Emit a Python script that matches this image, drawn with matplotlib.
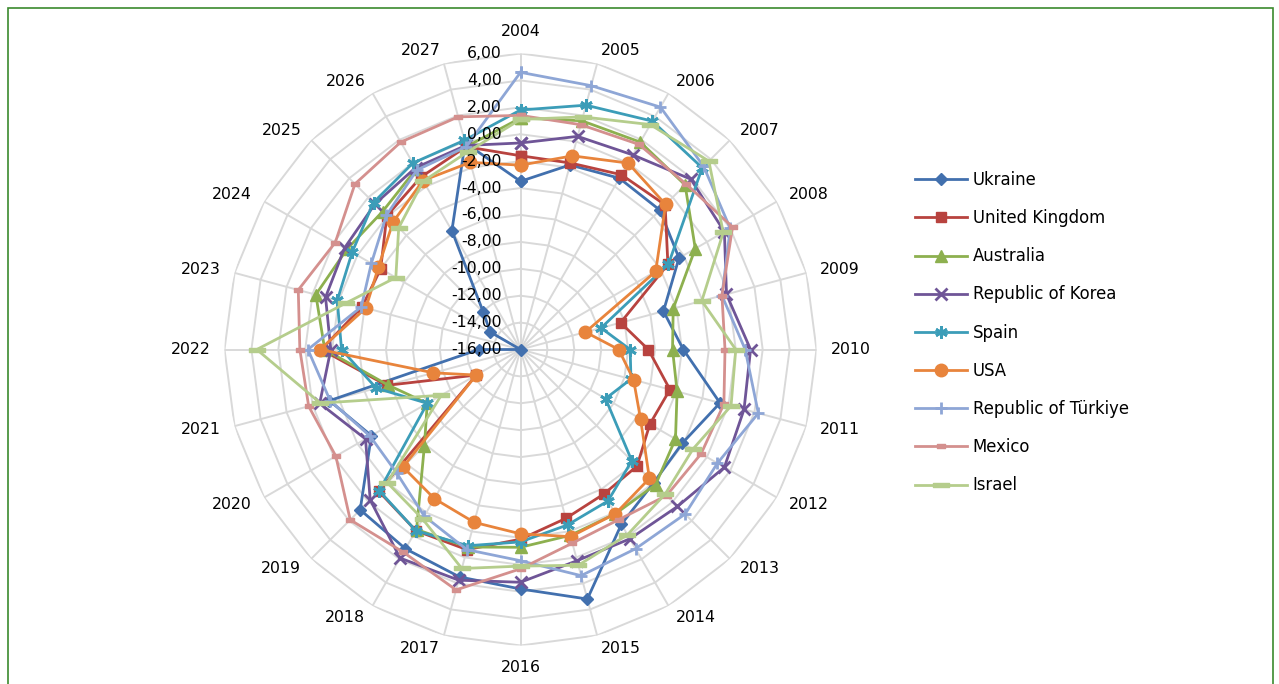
import numpy as np
import matplotlib
matplotlib.use('Agg')
import matplotlib.pyplot as plt
from matplotlib.path import Path
from matplotlib.patches import Rectangle

# Categories and series values (2004-2027)
years = [str(y) for y in range(2004, 2028)]

ukraine = [-3.5, -1.8, -1.3, -1.35, -2.4, -5.0, -3.9, -0.65, -2.1, -2.0, -1.0, 3.2,
           1.8, 1.5, 1.1, 0.85, -3.2, -1.3, -12.9, -16.0, -13.4, -12.1, -5.8, -0.1]
uk = [-1.6, -1.65, -1.0, -0.8, -3.35, -8.3, -6.5, -4.5, -4.9, -3.75, -3.6, -3.0,
      -1.9, -0.6, -0.45, -1.1, -12.2, -5.7, -1.2, -3.8, -4.0, -1.95, -1.2, -0.4]
australia = [1.2, 1.6, 1.8, 1.3, -1.0, -4.25, -4.7, -3.95, -2.7, -1.8, -1.9, -1.7,
             -1.3, -0.8, -0.55, -5.9, -8.0, -5.8, -1.45, -0.25, -1.1, -1.5, -0.5, -0.4]
korea = [-0.65, 0.4, 0.7, 1.9, 1.5, -0.15, 1.1, 1.2, 1.5, 0.5, 0.25, 0.25,
         1.3, 1.75, 1.9, -0.2, -2.7, -0.55, -1.9, -1.0, -0.9, -0.7, -0.4, -0.3]
spain = [1.8, 2.8, 3.6, 3.1, -3.3, -9.8, -7.85, -7.5, -8.7, -4.3, -3.0, -2.5,
         -1.7, -0.9, -0.45, -1.15, -8.0, -4.9, -2.7, -1.9, -1.55, -0.55, 0.0, 0.1]
usa = [-2.3, -1.1, 0.0, -0.75, -4.4, -11.0, -8.7, -7.3, -5.7, -2.45, -1.9, -1.6,
       -2.3, -2.7, -3.2, -3.65, -12.2, -9.3, -1.1, -4.1, -3.8, -2.6, -1.5, -1.6]
turkiye = [4.6, 4.3, 4.8, 3.25, 2.0, -0.5, 0.7, 2.3, 0.9, 1.3, 1.1, 1.4,
           -0.3, -0.6, -1.7, -3.0, -3.1, -1.35, -0.2, -3.75, -3.2, -1.9, -0.6, -0.4]
mexico = [1.4, 1.3, 1.6, 1.4, 2.2, -0.5, -0.8, -0.35, -0.5, -0.65, -1.4, -1.1,
          0.3, 2.5, 1.4, 1.9, -0.15, 0.3, 0.4, 1.1, -0.1, 1.4, 1.8, 1.9]
israel = [1.1, 1.9, 3.3, 3.8, 1.4, -2.05, 0.0, 0.2, -1.2, -0.8, -0.1, 0.6,
          0.1, 0.85, -1.45, -2.0, -9.2, -0.6, 3.6, -2.6, -5.3, -3.2, -1.55, -0.8]

names = ['Ukraine', 'United Kingdom', 'Australia', 'Republic of Korea', 'Spain',
         'USA', 'Republic of Türkiye', 'Mexico', 'Israel']
values = [ukraine, uk, australia, korea, spain, usa, turkiye, mexico, israel]

r_ticks = list(range(-16, 7, 2))
r_min, r_max = -16, 6

# dash-shaped markers (short and long)
def bar_marker(h):
    return Path([(-1, -h), (1, -h), (1, h), (-1, h), (-1, -h)],
                [Path.MOVETO, Path.LINETO, Path.LINETO, Path.LINETO, Path.CLOSEPOLY])

styles = [
    dict(color='#4270AE', marker='D', ms=6.5),
    dict(color='#B8433F', marker='s', ms=7.5),
    dict(color='#8DB04F', marker='^', ms=8.5),
    dict(color='#6F5597', marker='x', ms=8, mew=2),
    dict(color='#3C9DB8', marker=(6, 2, 0), ms=9, mew=2),
    dict(color='#E8843C', marker='o', ms=9),
    dict(color='#8EA6D6', marker='+', ms=9, mew=2),
    dict(color='#D4908E', marker=bar_marker(0.45), ms=6),
    dict(color='#B5CD8C', marker=bar_marker(0.25), ms=11),
]

W, H = 1279, 684
fig = plt.figure(figsize=(W / 100, H / 100), dpi=100)
plt.rcParams['font.family'] = 'DejaVu Sans'

cx, cy, R = 520.5, 349.5, 296
ax = fig.add_axes([(cx - R) / W, (H - cy - R) / H, 2 * R / W, 2 * R / H],
                  projection='polar')
ax.set_theta_zero_location('N')
ax.set_theta_direction(-1)
ax.set_ylim(r_min, r_max)
ax.grid(False)
ax.spines['polar'].set_visible(False)
ax.set_xticks([])
ax.set_yticks([])
ax.patch.set_visible(False)

n = len(years)
theta = np.arange(n) * 2 * np.pi / n
closed = np.append(theta, theta[0])

# polygon grid and spokes
for lvl in r_ticks[1:]:
    ax.plot(closed, [lvl] * (n + 1), color='#D9D9D9', lw=1.4, zorder=0)
for t in theta:
    ax.plot([t, t], [r_min, r_max], color='#D9D9D9', lw=1.4, zorder=0)

# radial value labels along the top spoke
for lvl in r_ticks:
    ax.annotate(f'{lvl:.2f}'.replace('.', ','), xy=(0, lvl), xytext=(-13.3, 0),
                textcoords='offset points', ha='right', va='center',
                fontsize=11.3, zorder=5, annotation_clip=False)

# category labels around the outside
for t, lab in zip(theta, years):
    s, c = np.sin(t), np.cos(t)
    if abs(s) < 0.05:
        ha, va = 'center', ('bottom' if c > 0 else 'top')
    else:
        ha, va = ('left' if s > 0 else 'right'), 'center'
    ax.annotate(lab, xy=(t, r_max), xytext=(10.1 * s, 10.1 * c),
                textcoords='offset points', ha=ha, va=va, fontsize=11.3,
                annotation_clip=False)

handles = []
for name, vals, st in zip(names, values, styles):
    ln, = ax.plot(closed, vals + vals[:1], lw=2.0, color=st['color'],
                  marker=st['marker'], ms=st['ms'], mew=st.get('mew', 1),
                  mfc=st['color'], mec=st['color'], label=name, clip_on=False)
    handles.append(ln)

fig.legend(handles=handles, loc='upper left',
           bbox_to_anchor=(915 / W, 1 - 171 / H), frameon=False,
           fontsize=11.9, handlelength=3.15, handletextpad=0.35,
           labelspacing=1.22, borderpad=0, borderaxespad=0)

fig.add_artist(Rectangle((8 / W, -0.05), (1273 - 8) / W, (H - 8) / H + 0.05,
                         transform=fig.transFigure, fill=False,
                         edgecolor='#3B8A2E', lw=1.2))

fig.savefig('out.png', dpi=100)
